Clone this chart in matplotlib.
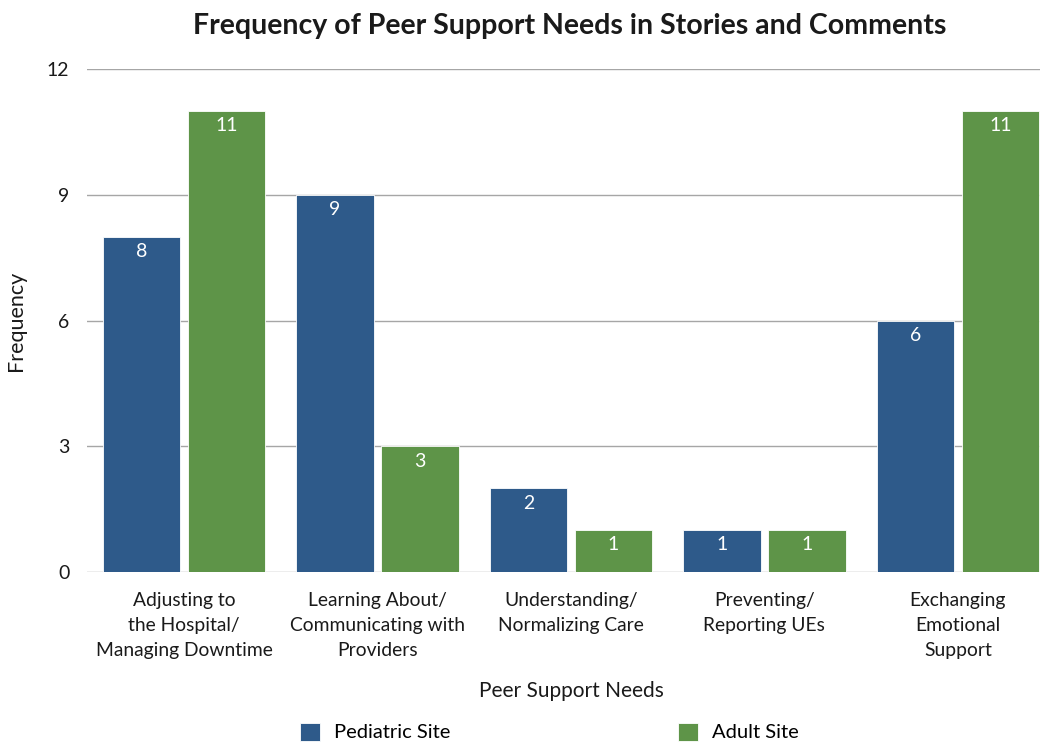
import matplotlib
matplotlib.use("Agg")
import matplotlib.pyplot as plt
import numpy as np

categories = [
    "Adjusting to\nthe Hospital/\nManaging Downtime",
    "Learning About/\nCommunicating with\nProviders",
    "Understanding/\nNormalizing Care",
    "Preventing/\nReporting UEs",
    "Exchanging\nEmotional\nSupport",
]
pediatric = [8, 9, 2, 1, 6]
adult = [11, 3, 1, 1, 11]
series_names = ["Pediatric Site", "Adult Site"]
yticks = [0, 3, 6, 9, 12]

plt.rcParams["font.family"] = ["Lato", "DejaVu Sans"]

blue = "#2E5A8A"
green = "#5E9448"
grid_c = "#A6A6A6"
text_c = "#1A1A1A"

fig = plt.figure(figsize=(10.4, 7.42), dpi=100)
ax = fig.add_axes([0.084, 0.229, 0.93, 0.678])

x = np.arange(len(categories))
w = 0.40
off = 0.22
b1 = ax.bar(x - off, pediatric, w, color=blue, edgecolor="white", linewidth=0.6,
            label=series_names[0], zorder=3)
b2 = ax.bar(x + off, adult, w, color=green, edgecolor="white", linewidth=0.6,
            label=series_names[1], zorder=3)

for bars, vals in ((b1, pediatric), (b2, adult)):
    for rect, v in zip(bars, vals):
        ax.text(rect.get_x() + rect.get_width() / 2, v - 0.15, f"{v}",
                ha="center", va="top", color="white", fontsize=14, zorder=4)

ax.set_xlim(-0.5, len(categories) - 0.5)
ax.set_ylim(0, 12)
ax.set_yticks(yticks)
ax.yaxis.grid(True, color=grid_c, linewidth=1.0, zorder=0)
ax.set_axisbelow(True)
for s in ax.spines.values():
    s.set_visible(False)
ax.tick_params(axis="y", length=0, pad=13, labelsize=14, labelcolor=text_c)
ax.tick_params(axis="x", length=0, pad=14, labelsize=13.9, labelcolor=text_c)
ax.set_xticks(x)
ax.set_xticklabels(categories, linespacing=1.58)

ax.set_ylabel("Frequency", fontsize=15.5, color=text_c)
ax.set_xlabel("Peer Support Needs", fontsize=15, color=text_c)
ax.yaxis.set_label_coords(-0.063, 0.5)
ax.xaxis.set_label_coords(0.5, -0.216)

fig.text(0.548, 0.965, "Frequency of Peer Support Needs in Stories and Comments",
         ha="center", va="center", fontsize=20.5, fontweight="bold", color=text_c)

fig.legend(handles=[b1, b2], labels=series_names, loc="center",
           bbox_to_anchor=(0.528, 0.0135), ncol=2, frameon=False, fontsize=14.5,
           handlelength=1.0, handleheight=1.0, columnspacing=11.3,
           handletextpad=0.7, borderaxespad=0, borderpad=0)

fig.savefig("out.png", dpi=100)
